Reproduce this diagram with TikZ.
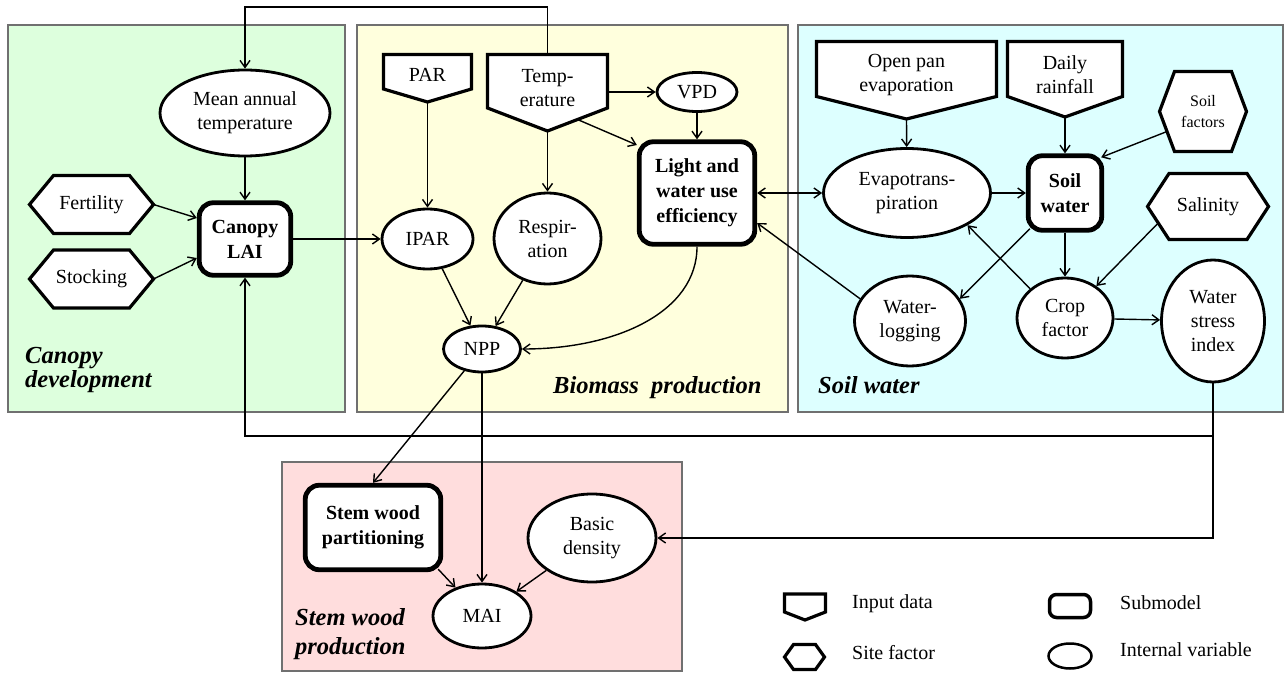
\documentclass[tikz,border=0pt]{standalone}
\usepackage{fontspec}
\setmainfont{Liberation Serif}
\usetikzlibrary{arrows.meta,calc,shapes.geometric}
\pgfdeclarelayer{panel}
\pgfdeclarelayer{shapes}
\pgfsetlayers{panel,shapes,main}
\definecolor{pgreen}{HTML}{DDFFDD}
\definecolor{pyellow}{HTML}{FFFFDD}
\definecolor{pcyan}{HTML}{DDFFFF}
\definecolor{ppink}{HTML}{FFDDDD}
\definecolor{pborder}{HTML}{707070}
\newcommand\fs[2]{\fontsize{#1}{#2}\selectfont}
\newcommand\inshape[3]{%
  \begin{pgfonlayer}{shapes}
  \draw[outline] ($(#1.north west)+(0,-#2)$) -- ($(#1.north east)+(0,-#2)$) -- (#1.south east) -- ($(#1.south)+(0,#3)$) -- (#1.south west) -- cycle;
  \end{pgfonlayer}
  \coordinate (#1-tip) at ($(#1.south)+(0,#3)$);
  \coordinate (#1-top) at ($(#1.north)+(0,-#2)$);}
\newcommand\hexshape[2]{%
  \begin{pgfonlayer}{shapes}
  \draw[outline] (#1.north west) -- (#1.north east) -- ($(#1.east)+(#2,0)$) -- (#1.south east) -- (#1.south west) -- ($(#1.west)+(-#2,0)$) -- cycle;
  \end{pgfonlayer}
  \coordinate (#1-e) at ($(#1.east)+(#2,0)$);
  \coordinate (#1-w) at ($(#1.west)+(-#2,0)$);}
\begin{document}
\begin{tikzpicture}[x=1pt,y=-1pt,
  every node/.style={inner sep=0pt, align=center, font=\fs{20}{24}},
  ell/.style={ellipse, draw, line width=2.8pt, fill=white},
  sub/.style={rectangle, rounded corners=14pt, draw, line width=4.8pt, fill=white, font=\fs{20}{25}\bfseries},
  inbox/.style={rectangle, outer sep=0pt},
  outline/.style={draw, fill=white, line width=3.2pt, line join=miter},
  arr/.style={-{Straight Barb[length=7pt,width=10pt]}, line width=1.4pt},
  arrs/.style={{Straight Barb[length=7pt,width=10pt]}-{Straight Barb[length=7pt,width=10pt]}, line width=1.4pt},
  panelbox/.style={draw=pborder, line width=1.5pt},
  plabel/.style={font=\fs{24.5}{24}\bfseries\itshape, align=left},
  legtext/.style={anchor=west, font=\fs{20}{24}}
]
\useasboundingbox (0,0) rectangle (1286,674);
% panels
\begin{pgfonlayer}{panel}
\fill[white] (0,0) rectangle (1286,674);
\draw[panelbox, fill=pgreen] (8,25) rectangle (345,412);
\draw[panelbox, fill=pyellow] (357,25) rectangle (788,412);
\draw[panelbox, fill=pcyan] (798,25) rectangle (1283,412);
\draw[panelbox, fill=ppink] (282,462) rectangle (682,671);
\end{pgfonlayer}
% panel labels
\node[plabel, anchor=base west] (lcan) at (25,387) {Canopy\\development};
\node[plabel, anchor=base west] (lbio) at (553,393) {Biomass~ production};
\node[plabel, anchor=base west] (lsoil) at (818,393) {Soil water};
\node[plabel, anchor=base west, font=\fs{24.5}{29}\bfseries\itshape] (lstem) at (295,654) {Stem wood\\production};
% canopy
\node[ell, minimum width=170, minimum height=86] (mat) at (245,113) {Mean annual\\temperature};
\node[sub, minimum width=91.5, minimum height=72.5] (lai) at (245,239) {Canopy\\LAI};
\node[inbox, minimum width=76, minimum height=58] (fert) at (91.5,204.5) {Fertility};
\hexshape{fert}{24}
\node[inbox, minimum width=76, minimum height=58] (stock) at (91.5,279) {Stocking};
\hexshape{stock}{24}
% biomass
\node[inbox, minimum width=88, minimum height=28] (par) at (427.5,75) {PAR};
\inshape{par}{6.5}{13}
\node[inbox, minimum width=120, minimum height=40] (temp) at (547.5,88) {Temp-\\erature};
\inshape{temp}{13.5}{23}
\node[ell, minimum width=80, minimum height=39] (vpd) at (697,92) {VPD};
\node[sub, minimum width=115.5, minimum height=102.5] (lwue) at (697,193) {Light and\\water use\\efficiency};
\node[ell, minimum width=91, minimum height=60] (ipar) at (427.5,239) {IPAR};
\node[ell, minimum width=107, minimum height=91] (resp) at (547.5,238.5) {Respir-\\ation};
\node[ell, minimum width=77, minimum height=46] (npp) at (482,349) {NPP};
% soil water
\node[inbox, minimum width=180, minimum height=43] (op) at (906.5,75) {Open pan\\evaporation};
\inshape{op}{12}{22.5}
\node[inbox, minimum width=115, minimum height=43] (dr) at (1065,75) {Daily\\rainfall};
\inshape{dr}{12}{20.5}
\node[inbox, minimum width=57, minimum height=80, font=\fs{16}{21}] (sf) at (1203,111.5) {Soil\\factors};
\hexshape{sf}{15}
\node[ell, minimum width=167, minimum height=89] (et) at (907,193) {Evapotrans-\\piration};
\node[sub, minimum width=73.5, minimum height=74.5] (sw) at (1065,193) {Soil\\water};
\node[inbox, minimum width=78, minimum height=66] (sal) at (1208,206.5) {Salinity};
\hexshape{sal}{21.5}
\node[ell, minimum width=111, minimum height=90] (wl) at (910,321) {Water-\\logging};
\node[ell, minimum width=96, minimum height=80] (cf) at (1065,318) {Crop\\factor};
\node[ell, minimum width=103, minimum height=122] (wsi) at (1213,321) {Water\\stress\\index};
% stem wood
\node[sub, minimum width=135.5, minimum height=84.5] (swp) at (373,527.5) {Stem wood\\partitioning};
\node[ell, minimum width=128, minimum height=88] (bd) at (592,538) {Basic\\density};
\node[ell, minimum width=98, minimum height=64] (mai) at (482,616) {MAI};
% legend
\node[inbox, minimum width=41, minimum height=18] (lgin) at (805,603) {};
\inshape{lgin}{0}{8}
\node[legtext] (lgintx) at (852,604) {Input data};
\node[inbox, minimum width=22, minimum height=25] (lghex) at (804.5,657) {};
\hexshape{lghex}{9}
\node[legtext] (lghextx) at (852,653) {Site factor};
\node[sub, rounded corners=7pt, line width=3.5pt, minimum width=41, minimum height=23] (lgsub) at (1070,606) {};
\node[legtext] (lgsubtx) at (1120,603) {Submodel};
\node[ell, line width=2.5pt, minimum width=43, minimum height=25] (lgell) at (1070,656) {};
\node[legtext] (lgelltx) at (1120,650) {Internal variable};
% helper coordinates
\coordinate (topy) at (0,7);
\coordinate (fby) at (0,436);
\coordinate (tmid) at ($(temp.south east)!0.5!(temp-tip)$);
% connectors
\draw[arr] (temp-top) -- (temp-top |- topy) -| (mat.north);
\draw[arr] (mat) -- (lai);
\draw[arr] (fert-e) -- ($(lai.west)+(0,-21)$);
\draw[arr] (stock-e) -- ($(lai.west)+(0,19)$);
\draw[arr] (lai) -- (ipar);
\draw[arr] (par-tip) -- (ipar);
\draw[arr] (temp.east |- vpd) -- (vpd);
\draw[arr] (tmid) -- ($(lwue.west)+(0,-48)$);
\draw[arr] (temp-tip) -- (resp);
\draw[arr] (vpd) -- (lwue);
\draw[arr] (ipar) -- (npp);
\draw[arr] (resp) -- (npp);
\draw[arr] (lwue.south) .. controls ($(lwue.south)+(0,65)$) and ($(npp.east)+(95,0)$) .. (npp.east);
\draw[arrs] (lwue) -- (et);
\draw[arr] (wl.156) -- ($(lwue.east)+(0,30)$);
\draw[arr] (op-tip) -- (et);
\draw[arr] (et) -- (sw);
\draw[arr] (dr-tip) -- (sw);
\draw[arr] ($(sf-w)!0.5!(sf.south west)$) -- ($(sw.north east)+(-3,4)$);
\draw[arr] ($(sw.south west)+(4,-4)$) -- (wl.24);
\draw[arr] (sw) -- (cf);
\draw[arr] ($(sal-w)!0.5!(sal.south west)$) -- (cf);
\draw[arr] (cf.140) -- (et.-28);
\draw[arr] (cf) -- (wsi);
\draw[arr] (wsi.south) |- (bd.east);
\draw[arr] (wsi.south |- fby) -| (lai.south);
\draw[arr] (npp) -- (swp.north);
\draw[arr] (npp) -- (mai);
\draw[arr] ($(swp.south east)+(-5,-3)$) -- (mai);
\draw[arr] (bd) -- (mai);
\end{tikzpicture}
\end{document}
